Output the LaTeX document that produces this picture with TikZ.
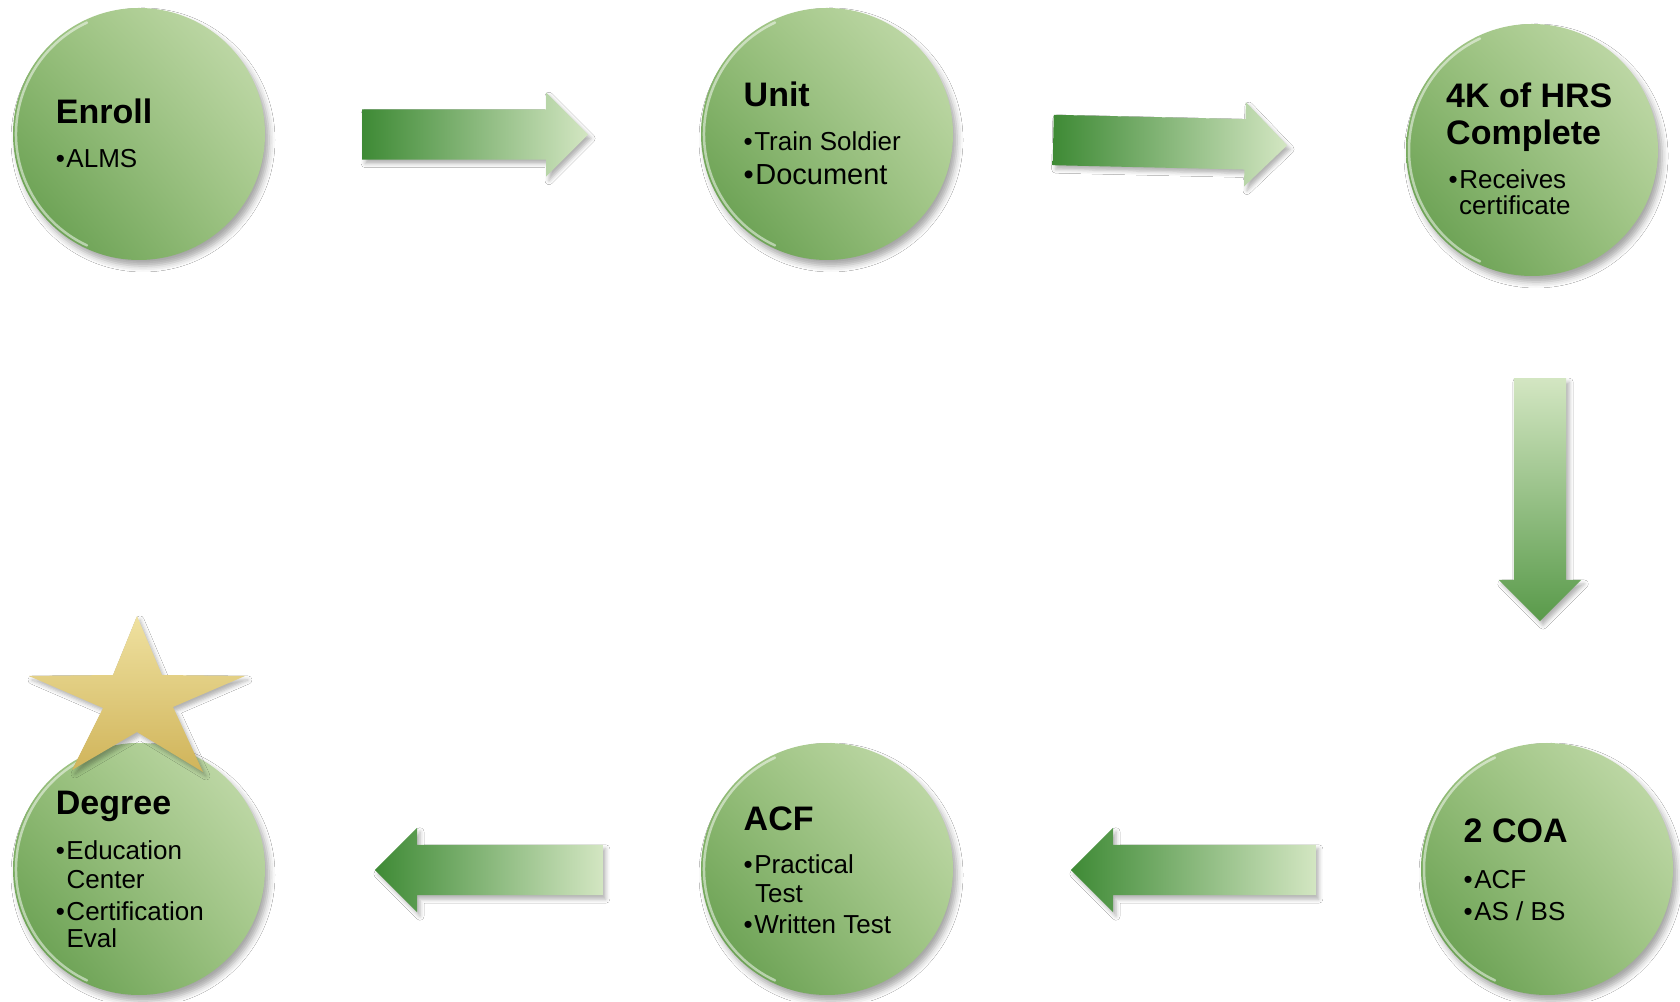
\documentclass[tikz,border=0pt]{standalone}
\usepackage{fontspec}
\setmainfont{Liberation Sans}
\usetikzlibrary{shapes.arrows,shadows.blur,shadings}
\usepackage{xcolor}

\definecolor{bubLight}{HTML}{CADFB3}
\definecolor{bubMid}{HTML}{96BF7A}
\definecolor{bubDark}{HTML}{5C9746}
\definecolor{arDark}{HTML}{3E8A35}
\definecolor{arLight}{HTML}{D3E6C2}
\definecolor{goldLight}{HTML}{EFE1A0}
\definecolor{goldMid}{HTML}{E3CF80}
\definecolor{goldDark}{HTML}{D0B45A}

\newcommand{\bul}{\textbullet\hspace{1.5pt}}

\tikzset{
  bubble/.style={circle, minimum size=252pt, inner sep=0pt,
    upper right=bubLight, upper left=bubMid, lower right=bubMid!85!bubLight, lower left=bubDark,
    blur shadow={shadow xshift=4pt, shadow yshift=-6pt, shadow blur radius=6pt, shadow opacity=35}},
  rim/.style={white, opacity=.5, line width=2.5pt, line cap=round},
  blockarrow/.style={single arrow, anchor=tail, inner xsep=0pt, inner ysep=25pt,
    single arrow head extend=17pt,
    blur shadow={shadow xshift=3pt, shadow yshift=-4pt, shadow blur radius=4pt, shadow opacity=30}},
  title/.style={anchor=base west, inner sep=0pt, font=\fontsize{34}{40}\selectfont\bfseries},
  item/.style={anchor=base west, inner sep=0pt, font=\fontsize{26}{30}\selectfont},
}

\begin{document}
\begin{tikzpicture}[x=1pt, y=1pt]
  \fill[white] (0,0) rectangle (1680,1001);
  \useasboundingbox (0,0) rectangle (1680,1001);

  % the six stages
  \node[bubble] (enroll) at (139,867) {};
  \node[bubble] (unit)   at (827,867) {};
  \node[bubble] (hrs)    at (1532,851) {};
  \node[bubble] (coa)    at (1547,132) {};
  \node[bubble] (acf)    at (827,132) {};
  \node[bubble] (degree) at (139,132) {};
  \foreach \b in {enroll,unit,hrs,coa,acf,degree}
    \draw[rim] ([shift={(115:123)}]\b.center) arc[start angle=115, end angle=245, radius=123];

  % block arrows, placed by their tails
  \node[blockarrow, minimum height=226pt, left color=arDark, right color=arLight] (arrA) at (362,866.5) {};
  \node[blockarrow, minimum height=234pt, left color=arDark, right color=arLight, rotate=-1.3] (arrB) at (1053,861) {};
  \node[blockarrow, minimum height=243pt, inner ysep=26pt, single arrow head extend=15pt,
        top color=arLight, bottom color=arDark!70!bubMid, rotate=-90] (arrC) at (1540,623) {};
  \node[blockarrow, minimum height=245pt, left color=arDark, right color=arLight, rotate=180] (arrD) at (1316,131) {};
  \node[blockarrow, minimum height=228pt, left color=arDark, right color=arLight, rotate=180] (arrE) at (603,131) {};

  % star on the last stage
  \shade[top color=goldLight, middle color=goldMid, bottom color=goldDark,
         blur shadow={shadow xshift=3pt, shadow yshift=-4pt, shadow blur radius=4pt, shadow opacity=30}]
    (137,385) -- (162,326) -- (245,325) -- (173,294) -- (203,229) -- (137,269)
    -- (72,231) -- (103,293) -- (29,325) -- (113,326) -- cycle;

  % texts
  \node[title] (enrollT) at (55.7,877) {Enroll};
  \node[item]  (enrollA) at (55.7,833) {\bul ALMS};

  \node[title] (unitT) at (743.5,894) {Unit};
  \node[item]  (unitA) at (743.5,850) {\bul Train Soldier};
  \node[item, font=\fontsize{29}{33}\selectfont] (unitB) at (743.5,816) {\bul Document};

  \node[title] (hrsT)  at (1446,893) {4K of HRS};
  \node[title] (hrsT2) at (1446,856) {Complete};
  \node[item]  (hrsA)  at (1448.5,812) {\bul Receives};
  \node[item]  (hrsA2) at (1459,786) {certificate};

  \node[title] (coaT) at (1463.5,158) {2 COA};
  \node[item]  (coaA) at (1463.5,113) {\bul ACF};
  \node[item]  (coaB) at (1463.5,81) {\bul AS / BS};

  \node[title] (acfT)  at (743.5,170) {ACF};
  \node[item]  (acfA)  at (743.5,128) {\bul Practical};
  \node[item]  (acfA2) at (755,99) {Test};
  \node[item]  (acfB)  at (743.5,68) {\bul Written Test};

  \node[title] (degreeT)  at (55.7,186) {Degree};
  \node[item]  (degreeA)  at (55.7,141) {\bul Education};
  \node[item]  (degreeA2) at (66.4,113) {Center};
  \node[item]  (degreeB)  at (55.7,81) {\bul Certification};
  \node[item]  (degreeB2) at (66.4,54) {Eval};
\end{tikzpicture}
\end{document}
